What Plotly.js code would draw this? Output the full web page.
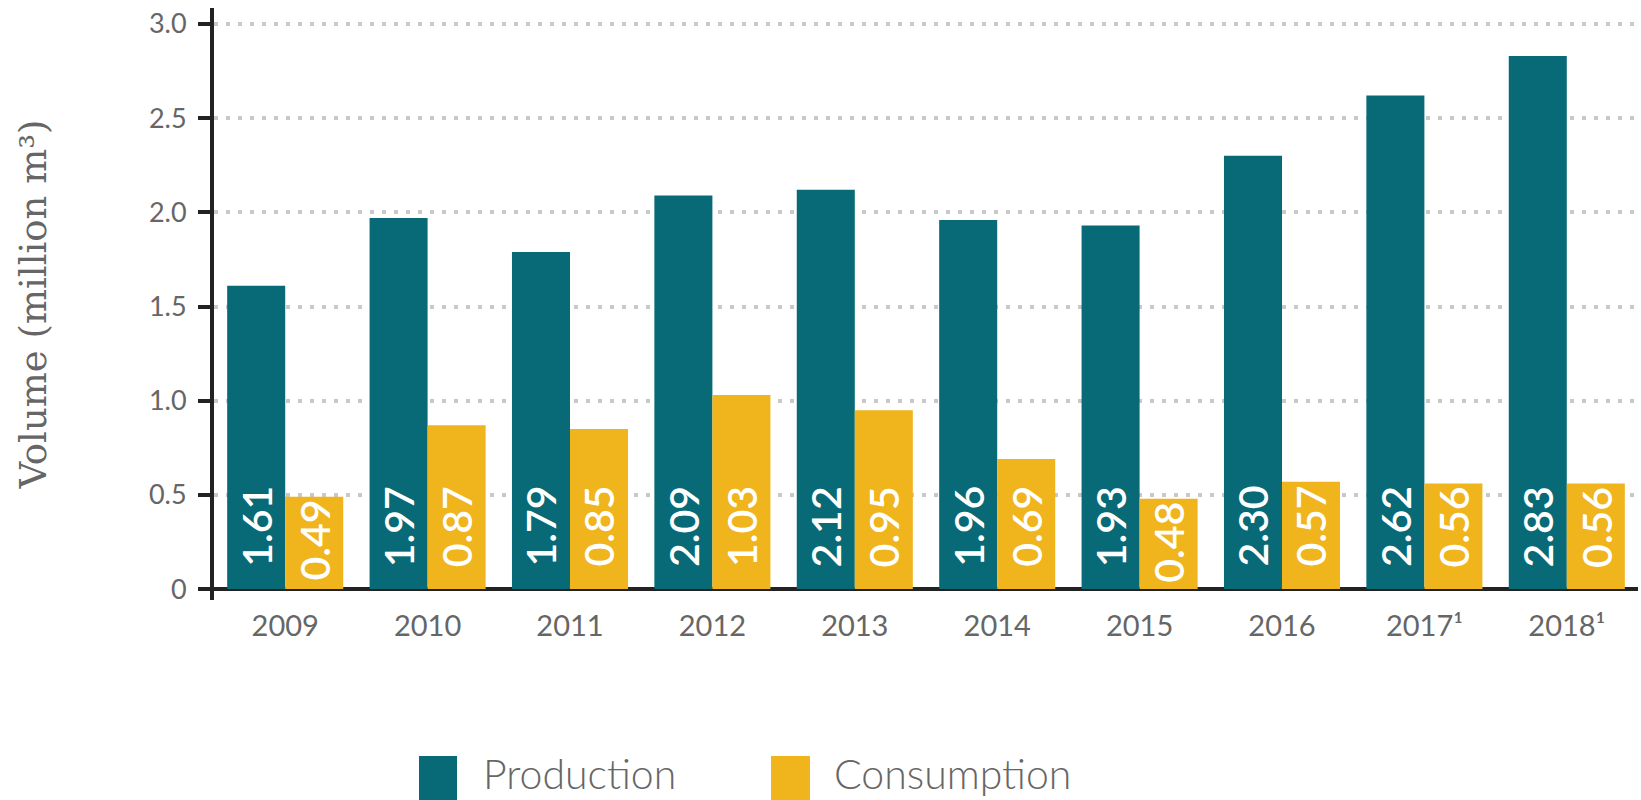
<!DOCTYPE html>
<html>
<head>
<meta charset="utf-8">
<script src="https://cdn.plot.ly/plotly-3.0.1.min.js"></script>
<style>
  html, body { margin: 0; padding: 0; background: #fff; }
  #chart { width: 1641px; height: 800px; }
</style>
</head>
<body>
<div id="chart"></div>
<script>
// Data (million m3)
const years = ['2009', '2010', '2011', '2012', '2013', '2014', '2015', '2016', '2017¹', '2018¹'];
const production = [1.61, 1.97, 1.79, 2.09, 2.12, 1.96, 1.93, 2.30, 2.62, 2.83];
const consumption = [0.49, 0.87, 0.85, 1.03, 0.95, 0.69, 0.48, 0.57, 0.56, 0.56];
const yTickVals = [0, 0.5, 1.0, 1.5, 2.0, 2.5, 3.0];
const yTickText = ['0', '0.5', '1.0', '1.5', '2.0', '2.5', '3.0'];
const seriesNames = ['Production', 'Consumption'];

const TEAL = '#076a76';
const GOLD = '#f0b41c';
const GREY = '#666666';
const INK = '#222222';

// plot box in pixels
const W = 1641, H = 800;
const margin = { l: 214, r: 3, t: 8, b: 200 };
const plotW = W - margin.l - margin.r;
const plotH = H - margin.t - margin.b;
const yRange = [-0.058, 3.085];
const pxPerUnit = plotH / (yRange[1] - yRange[0]);

// pixel -> paper helpers (for the hand-made legend)
const px = x => (x - margin.l) / plotW;
const py = y => (H - margin.b - y) / plotH;

const barFont = { family: 'Lato, sans-serif', size: 41, weight: 600, color: '#ffffff' };
const labelLen = 82;   // rough length of a rotated value label

const traces = [
    { type: 'bar', name: seriesNames[0], x: years, y: production, marker: { color: TEAL } },
    { type: 'bar', name: seriesNames[1], x: years, y: consumption, marker: { color: GOLD } }
];

// value labels, rotated, sitting near the base of each bar
// (x given as category index: '2009' etc. would be read as numbers)
const annotations = [];
[production, consumption].forEach((vals, s) => {
    vals.forEach((v, i) => {
        const room = v * pxPerUnit - labelLen;
        annotations.push({
            x: i, y: 0, xref: 'x', yref: 'y',
            text: v.toFixed(2),
            showarrow: false,
            textangle: -90,
            xanchor: 'center', yanchor: 'bottom',
            xshift: s === 0 ? -29 : 29,
            yshift: Math.max(2, Math.min(20, room - 4)),
            font: barFont
        });
    });
});

// legend drawn by hand so the swatches can be large
const shapes = [];
const legendItems = [
    { name: seriesNames[0], color: TEAL, x0: 419, x1: 457, tx: 481 },
    { name: seriesNames[1], color: GOLD, x0: 771, x1: 810, tx: 832 }
];
legendItems.forEach(it => {
    shapes.push({
        type: 'rect', xref: 'paper', yref: 'paper',
        x0: px(it.x0), x1: px(it.x1), y0: py(800), y1: py(756),
        fillcolor: it.color, line: { width: 0 }
    });
    annotations.push({
        xref: 'paper', yref: 'paper', x: px(it.tx), y: py(773),
        xanchor: 'left', yanchor: 'middle', showarrow: false,
        text: it.name,
        font: { family: 'Lato, sans-serif', size: 41, weight: 300, color: GREY }
    });
});

const layout = {
    width: W, height: H,
    margin: margin,
    paper_bgcolor: '#fff',
    plot_bgcolor: '#fff',
    barmode: 'group',
    bargap: 0.185,
    bargroupgap: 0,
    showlegend: false,
    xaxis: {
        type: 'category',
        range: [-0.5, years.length - 0.5],
        autorange: false,
        showgrid: false,
        showline: false,
        zeroline: false,
        ticks: '',
        ticklabelstandoff: 6,
        tickfont: { family: 'Lato, sans-serif', size: 29, color: GREY },
        fixedrange: true
    },
    yaxis: {
        range: yRange,
        autorange: false,
        tickvals: yTickVals,
        ticktext: yTickText,
        ticks: 'outside',
        ticklen: 12,
        tickwidth: 4,
        tickcolor: INK,
        ticklabelstandoff: 6,
        tickfont: { family: 'Lato, sans-serif', size: 27, color: GREY },
        showline: true,
        linecolor: INK,
        linewidth: 4,
        showgrid: true,
        gridcolor: '#c9c9c9',
        gridwidth: 4,
        griddash: '4px,8px',
        zeroline: true,
        zerolinecolor: INK,
        zerolinewidth: 4,
        title: {
            text: 'Volume (million m³)',
            standoff: 92,
            font: { family: '"DejaVu Serif", serif', size: 37, color: GREY }
        },
        fixedrange: true
    },
    shapes: shapes,
    annotations: annotations
};

Plotly.newPlot('chart', traces, layout, { displayModeBar: false, staticPlot: true });
</script>
</body>
</html>
